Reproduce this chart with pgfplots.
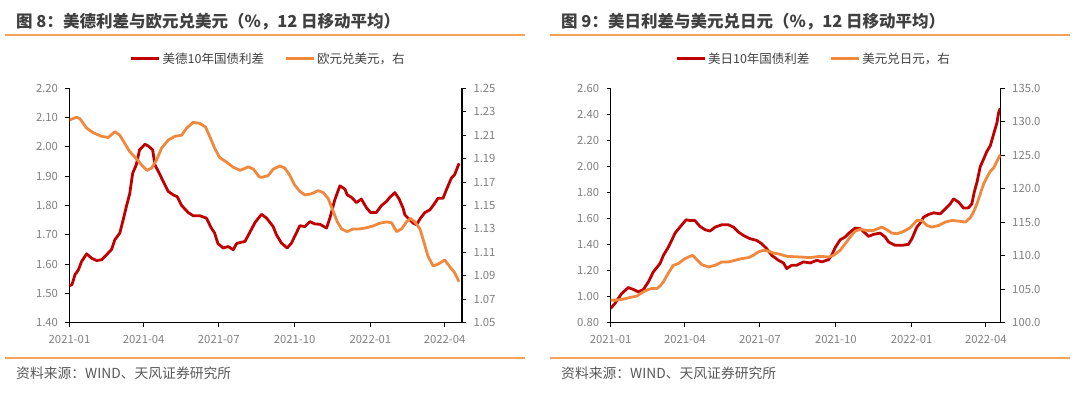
\documentclass[border=0pt]{standalone}
\usepackage{fontspec}
\setmainfont{Noto Sans CJK SC}
\usepackage{pgfplots}
\pgfplotsset{compat=1.18}
\definecolor{cred}{HTML}{C00000}
\definecolor{corange}{HTML}{F0883E}
\definecolor{crule}{HTML}{F5A25D}
\definecolor{ctitle}{HTML}{404040}
\definecolor{ctick}{HTML}{808080}
\definecolor{cfoot}{HTML}{595959}
\pgfplotsset{
  base/.style={
    scale only axis, anchor=south west,
    height=234.4pt,
    /pgf/number format/assume math mode=true,
    tick align=outside, major tick length=4pt,
    tick style={black, line width=0.9pt},
    axis line style={black, line width=1.3pt, -},
    ticklabel style={font=\fontsize{11.3}{12}\selectfont, text=ctick},
    xtick={0,90,181,273,365,455},
    xticklabels={2021-01,2021-04,2021-07,2021-10,2022-01,2022-04},
    xticklabel style={yshift=-5pt},
  },
  lefty/.style={yticklabel style={xshift=-4pt}},
  righty/.style={yticklabel style={xshift=4pt}},
  leg/.style={
    legend columns=2,
    legend style={draw=none, fill=none, at={(#1,1.125)}, anchor=center,
      font=\fontsize{12.5}{14}\selectfont, text=ctitle,
      /tikz/every even column/.append style={column sep=18pt},
      inner sep=0pt},
    legend cell align=left,
    legend image code/.code={\draw[##1, line width=3pt] (0pt,0pt) -- (28pt,0pt);},
  },
}
\begin{document}
\begin{tikzpicture}
\path[use as bounding box] (0pt,0pt) rectangle (1080pt,394pt);
% titles and rules
\node[anchor=west, inner sep=0pt, text=ctitle, font=\bfseries\fontsize{16.5}{18}\selectfont] at (16pt,372pt) {图 8：美德利差与欧元兑美元（\%，12 日移动平均）};
\node[anchor=west, inner sep=0pt, text=ctitle, font=\bfseries\fontsize{16.5}{18}\selectfont] at (561pt,372pt) {图 9：美日利差与美元兑日元（\%，12 日移动平均）};
\draw[crule, line width=1.4pt] (5pt,359pt) -- (525pt,359pt);
\draw[crule, line width=1.4pt] (550pt,359pt) -- (1070pt,359pt);
\draw[crule, line width=1.4pt] (5pt,36pt) -- (525pt,36pt);
\draw[crule, line width=1.4pt] (550pt,36pt) -- (1070pt,36pt);
\node[anchor=west, inner sep=0pt, text=cfoot, font=\fontsize{13.8}{15}\selectfont] at (16pt,21pt) {资料来源：WIND、天风证券研究所};
\node[anchor=west, inner sep=0pt, text=cfoot, font=\fontsize{13.8}{15}\selectfont] at (561pt,21pt) {资料来源：WIND、天风证券研究所};

% ---------- left panel ----------
\begin{axis}[base, lefty, leg=0.506, at={(69.5pt,71.3pt)}, width=392.5pt,
  xmin=0, xmax=476, ymin=1.4, ymax=2.2,
  axis x line*=bottom, axis y line*=left,
  ytick={1.4,1.5,1.6,1.7,1.8,1.9,2.0,2.1,2.2},
  yticklabel style={/pgf/number format/.cd, fixed, fixed zerofill, precision=2},
]
\addlegendimage{cred}
\addlegendentry{美德10年国债利差}
\addlegendimage{corange}
\addlegendentry{欧元兑美元，右}
\addplot[cred, line width=2.8pt, line join=round] coordinates {
(0,1.526)(3,1.53)(6.7,1.564)(10.7,1.58)(14.7,1.609)(20.8,1.635)(26.9,1.62)(33,1.612)(39,1.615)(45,1.632)(51,1.65)(55,1.683)(61,1.706)(65,1.75)(69,1.797)(73,1.84)(76.6,1.91)(81,1.939)(85,1.99)(91.5,2.009)(95.5,2.003)(100.8,1.99)(103.6,1.939)(109.7,1.905)(115.8,1.87)(119.8,1.848)(125.9,1.836)(130.7,1.83)(136,1.80)(144,1.776)(150,1.765)(158,1.765)(166,1.757)(172,1.723)(176,1.706)(180,1.67)(186.5,1.655)(192.5,1.66)(198.6,1.649)(202.6,1.67)(208.7,1.675)(212.7,1.677)(219,1.71)(225,1.742)(232.9,1.77)(239,1.757)(247,1.728)(251,1.70)(257,1.672)(264,1.655)(269.3,1.672)(273,1.694)(279.4,1.731)(285.5,1.728)(291.5,1.745)(297.6,1.737)(303.6,1.736)(311.7,1.723)(315.8,1.757)(321.8,1.82)(327.9,1.867)(334,1.856)(336.8,1.836)(342,1.828)(348,1.81)(354,1.822)(360,1.793)(365,1.776)(372,1.776)(378.4,1.80)(384.5,1.814)(388.5,1.828)(394.6,1.844)(399.8,1.822)(404.7,1.79)(406.7,1.768)(412.8,1.751)(416.8,1.74)(420.8,1.734)(425.7,1.757)(431,1.776)(437,1.785)(441,1.80)(447,1.825)(453,1.825)(457,1.853)(463,1.893)(467,1.905)(472.5,1.944)
};
\end{axis}
\begin{axis}[base, righty, at={(69.5pt,71.3pt)}, width=392.5pt,
  xmin=0, xmax=476, ymin=1.05, ymax=1.25,
  axis x line=none, axis y line*=right,
  ytick={1.05,1.07,1.09,1.11,1.13,1.15,1.17,1.19,1.21,1.23,1.25},
  yticklabel style={/pgf/number format/.cd, fixed, fixed zerofill, precision=2},
]
\addplot[corange, line width=2.8pt, line join=round] coordinates {
(0,1.223)(8.7,1.2253)(12.7,1.224)(20.8,1.216)(29,1.212)(39,1.209)(47,1.208)(55,1.213)(61,1.210)(67,1.203)(73,1.196)(81,1.190)(87.5,1.1846)(94,1.180)(99.6,1.182)(105.7,1.189)(111.7,1.199)(120,1.206)(128,1.209)(136,1.210)(142,1.216)(150,1.221)(158,1.220)(165,1.217)(170,1.209)(176,1.199)(182,1.191)(190.5,1.187)(198.6,1.1826)(207,1.180)(217,1.183)(223,1.181)(230,1.1746)(233,1.174)(241,1.1755)(247,1.181)(255,1.1837)(261,1.182)(267,1.176)(273,1.1675)(279.4,1.162)(285.5,1.159)(293.5,1.160)(301.6,1.1627)(307.7,1.161)(313.7,1.156)(320,1.1447)(324.8,1.136)(330,1.130)(336.8,1.1277)(344,1.130)(352,1.130)(360,1.131)(368,1.1325)(376,1.1348)(384.5,1.136)(390.6,1.1353)(396.6,1.1277)(402.7,1.130)(408.7,1.136)(413.6,1.139)(418.8,1.136)(425,1.130)(429,1.1206)(435,1.1063)(441,1.0984)(447,1.100)(455,1.1035)(461,1.098)(467,1.0927)(472.5,1.085)
};
\end{axis}

% ---------- right panel ----------
\begin{axis}[base, lefty, leg=0.52, at={(610.7pt,71.3pt)}, width=390pt,
  xmin=0, xmax=473, ymin=0.8, ymax=2.6,
  axis x line*=bottom, axis y line*=left,
  ytick={0.8,1.0,1.2,1.4,1.6,1.8,2.0,2.2,2.4,2.6},
  yticklabel style={/pgf/number format/.cd, fixed, fixed zerofill, precision=2},
]
\addlegendimage{cred}
\addlegendentry{美日10年国债利差}
\addlegendimage{corange}
\addlegendentry{美元兑日元，右}
\addplot[cred, line width=2.8pt, line join=round] coordinates {
(0,0.91)(5.2,0.948)(13.3,1.024)(21.4,1.07)(27.5,1.055)(33.5,1.037)(39.6,1.055)(45.7,1.113)(51.7,1.19)(59.8,1.254)(63.9,1.317)(70,1.381)(74,1.432)(78,1.488)(84,1.534)(91.4,1.59)(96,1.585)(102,1.585)(108.4,1.539)(114.4,1.514)(120.5,1.504)(126.6,1.534)(134.7,1.552)(142.7,1.552)(148.8,1.534)(154.9,1.496)(161,1.47)(169,1.445)(177,1.432)(183,1.407)(189.3,1.368)(195.3,1.317)(203.4,1.279)(209.5,1.259)(213.5,1.216)(219.6,1.241)(225.7,1.241)(233.8,1.267)(241.9,1.259)(250,1.279)(256,1.267)(264.1,1.284)(268,1.317)(272,1.374)(278.3,1.437)(284.4,1.458)(290.4,1.496)(296.5,1.527)(302.6,1.522)(308.6,1.488)(312.7,1.463)(318.7,1.478)(326.8,1.488)(332.9,1.458)(337,1.42)(345,1.394)(353.1,1.394)(361.2,1.402)(365.3,1.445)(371.3,1.534)(375.4,1.565)(379.4,1.61)(385.5,1.631)(391.6,1.644)(399.7,1.636)(405.7,1.674)(411.8,1.713)(415.8,1.751)(421.9,1.726)(428,1.68)(434,1.682)(438,1.713)(440.9,1.802)(444.2,1.878)(448.2,1.998)(452.3,2.057)(456.3,2.116)(460.4,2.159)(464.4,2.248)(468.5,2.337)(470.5,2.414)(472.5,2.447)
};
\end{axis}
\begin{axis}[base, righty, at={(610.7pt,71.3pt)}, width=390pt,
  xmin=0, xmax=473, ymin=100, ymax=135,
  axis x line=none, axis y line*=right,
  ytick={100,105,110,115,120,125,130,135},
  yticklabel style={/pgf/number format/.cd, fixed, fixed zerofill, precision=1},
]
\addplot[corange, line width=2.8pt, line join=round] coordinates {
(0,103.37)(7.2,103.37)(15.3,103.52)(23.4,103.77)(31.5,103.96)(37.6,104.46)(43.6,104.86)(49.7,105.1)(55.8,105.1)(59.8,105.45)(63.9,106.1)(70,107.43)(76,108.57)(82,108.82)(88.2,109.42)(94.3,109.81)(99.5,110.06)(104.4,109.42)(110.4,108.67)(118.5,108.33)(126.6,108.57)(134.7,109.07)(142.7,109.07)(150.8,109.32)(158.9,109.57)(167,109.72)(173,110.06)(179,110.56)(185.2,110.81)(191.2,110.71)(197.3,110.41)(205.4,110.21)(213.5,109.91)(229.7,109.81)(241.9,109.72)(254,109.91)(264.1,109.81)(270.2,110.06)(278.3,110.81)(284.4,111.8)(290.4,112.79)(296.5,113.68)(302.6,113.93)(310.7,113.78)(318.7,113.78)(328.8,114.28)(334.9,113.88)(341,113.38)(347.1,113.28)(355.2,113.63)(363.2,114.18)(371.3,115.27)(377.4,115.27)(383.4,114.52)(389.5,114.28)(397.6,114.52)(405.7,115.02)(413.8,115.27)(421.9,115.17)(430,115.02)(436,115.66)(440,116.51)(444.2,117.75)(448.2,119.23)(452.3,120.72)(456.3,121.71)(460.4,122.6)(464.4,123.1)(468.5,124.09)(472.5,125.08)
};
\end{axis}
\end{tikzpicture}
\end{document}
